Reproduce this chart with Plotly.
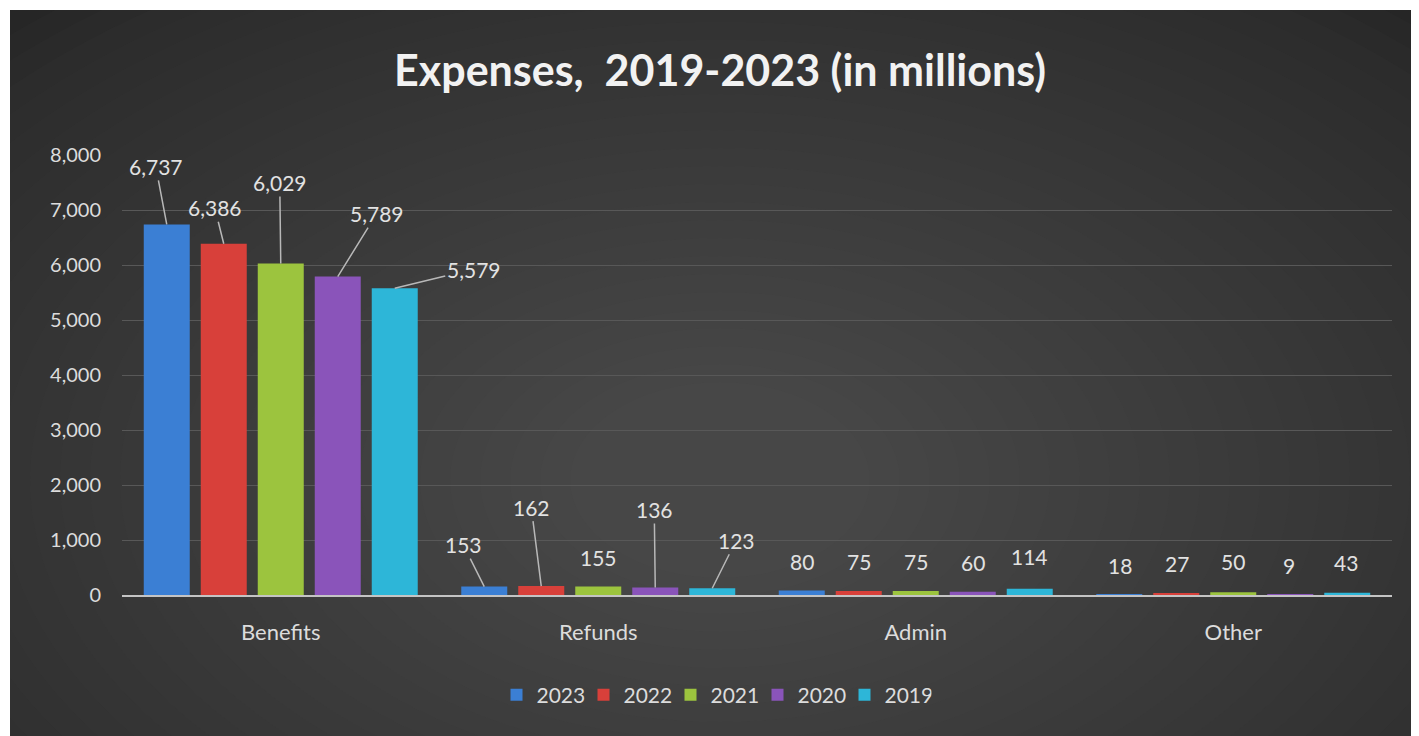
import plotly.graph_objects as go

categories = ["Benefits", "Refunds", "Admin", "Other"]
years = ["2023", "2022", "2021", "2020", "2019"]
v2023 = [6737, 153, 80, 18]
v2022 = [6386, 162, 75, 27]
v2021 = [6029, 155, 75, 50]
v2020 = [5789, 136, 60, 9]
v2019 = [5579, 123, 114, 43]
series = [v2023, v2022, v2021, v2020, v2019]
y_ticks = [0, 1000, 2000, 3000, 4000, 5000, 6000, 7000, 8000]

colors = ["#3b7fd4", "#d8403a", "#9cc43e", "#8a54ba", "#2db6d8"]

# label offsets (pixels) per category per series: (dx, dy, leader line?)
label_offsets = [
    [(-11, -58, True), (-9, -36, True), (-1, -81, True), (39, -63, True), (79, -19, True)],
    [(-21, -42, True), (-10, -79, True), (0, -29, False), (-1, -78, True), (24, -48, True)],
    [(0, -29, False), (0, -29, False), (0, -29, False), (0, -29, False), (0, -32, False)],
    [(1, -29, False), (1, -30, False), (0, -31, False), (-1, -29, False), (-1, -30, False)],
]

PAGE_OFF = 8  # browser body margin
W, H = 1419 - PAGE_OFF, 736 - PAGE_OFF
L, R, T, B = 122 - PAGE_OFF, 27, 155 - PAGE_OFF, 141
PW = W - L - R
PH = H - T - B
BARGAP = 0.1024
slot = PW / len(categories) * (1 - BARGAP) / len(years)


def px_x(p):  # page pixel -> paper x
    return (p - PAGE_OFF - L) / PW


def px_y(p):  # page pixel -> paper y
    return (H - B - (p - PAGE_OFF)) / PH


fig = go.Figure()
for yr, vals, col in zip(years, series, colors):
    fig.add_trace(go.Bar(
        x=categories, y=vals, name=yr,
        marker=dict(color=col, line=dict(width=0)),
    ))

shapes = [dict(type="rect", xref="paper", yref="paper",
               x0=px_x(10), x1=px_x(1430), y0=px_y(750), y1=px_y(10),
               fillcolor="#262626", line=dict(width=0), layer="below")]
cx, cy = 720, 480
n = 30
for k in range(n):
    f = 1 - k / n
    rx, ry = 120 + 900 * f, 80 + 540 * f
    shapes.append(dict(type="circle", xref="paper", yref="paper",
                       x0=px_x(cx - rx), x1=px_x(cx + rx),
                       y0=px_y(cy + ry), y1=px_y(cy - ry),
                       fillcolor="#6c6c6c", opacity=0.025,
                       line=dict(width=0), layer="below"))
# white page border on top and left
shapes.append(dict(type="rect", xref="paper", yref="paper",
                   x0=px_x(-50), x1=px_x(1500), y0=px_y(10), y1=px_y(-600),
                   fillcolor="white", line=dict(width=0), layer="below"))
shapes.append(dict(type="rect", xref="paper", yref="paper",
                   x0=px_x(-600), x1=px_x(10), y0=px_y(1500), y1=px_y(-50),
                   fillcolor="white", line=dict(width=0), layer="below"))

annotations = []
for ci, cat in enumerate(categories):
    for si, vals in enumerate(series):
        dx, dy, line = label_offsets[ci][si]
        xs = (si - 2) * slot
        txt = f"{vals[ci]:,}"
        if line:
            annotations.append(dict(
                x=cat, y=vals[ci], xref="x", yref="y", text=txt,
                showarrow=True, arrowhead=0, arrowwidth=1.5, arrowcolor="#b8b8b8",
                ax=dx, ay=dy, xshift=xs, standoff=0, startstandoff=0,
                font=dict(family="Lato", size=21, color="#e2e2e2"),
            ))
        else:
            annotations.append(dict(
                x=cat, y=vals[ci], xref="x", yref="y", text=txt,
                showarrow=False, xshift=xs + dx, yshift=-dy,
                xanchor="center", yanchor="middle",
                font=dict(family="Lato", size=21, color="#e2e2e2"),
            ))

fig.update_layout(
    width=W, height=H,
    margin=dict(l=L, r=R, t=T, b=B, pad=0),
    paper_bgcolor="white",
    plot_bgcolor="rgba(0,0,0,0)",
    barmode="group", bargap=BARGAP, bargroupgap=0.193,
    title=dict(text="Expenses,  2019-2023 (in millions)",
               x=(720 - PAGE_OFF) / W, xanchor="center",
               y=1 - (71 - PAGE_OFF) / H, yanchor="middle", xref="container", yref="container",
               font=dict(family="Lato", size=43, color="#f2f2f2", weight="bold")),
    font=dict(family="Lato", color="#dcdcdc", size=20),
    showlegend=True,
    legend=dict(orientation="h", x=px_x(714), xanchor="center", y=px_y(695), yanchor="middle",
                font=dict(family="Lato", size=21, color="#dcdcdc"),
                bgcolor="rgba(0,0,0,0)", itemwidth=30, traceorder="normal",
                entrywidth=42, entrywidthmode="pixels"),
    shapes=shapes,
    annotations=annotations,
)
fig.update_xaxes(showgrid=False, showline=True, linecolor="#c4c4c4", linewidth=2,
                 ticks="", tickfont=dict(family="Lato", size=22, color="#dcdcdc"),
                 ticklabelstandoff=17, zeroline=False)
fig.update_yaxes(range=[0, 8000], tickvals=y_ticks, tickformat=",d",
                 showgrid=True, gridcolor="#585858", gridwidth=1,
                 zeroline=False, showline=False,
                 tickfont=dict(family="Lato", size=20, color="#dcdcdc"),
                 ticklabelstandoff=20)

fig.write_html("out.html")
